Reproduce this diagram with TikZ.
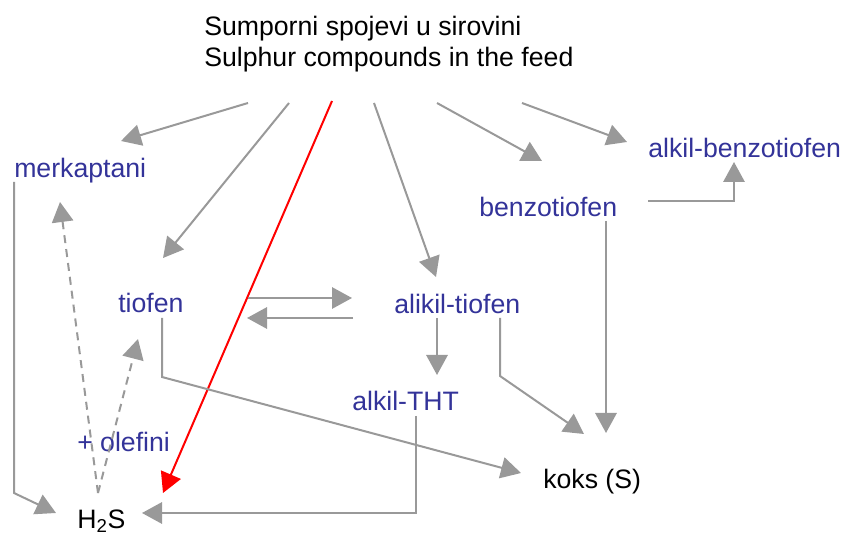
\documentclass[tikz,border=0pt]{standalone}
\usepackage{fontspec}
\setmainfont{Liberation Sans}
\usetikzlibrary{arrows.meta,calc}
\usepackage{xcolor}
\definecolor{chemblue}{HTML}{333399}
\definecolor{arrgray}{HTML}{999999}

\begin{document}
\begin{tikzpicture}[x=0.75pt, y=-0.75pt, font=\fontsize{20}{24}\selectfont,
    >={Triangle[length=15pt,width=16pt]},
    comp/.style={text=chemblue, anchor=base west, inner sep=0pt},
    plain/.style={anchor=base west, inner sep=0pt},
    flow/.style={->, arrgray, line width=1.5pt},
    back/.style={flow, dash pattern=on 6pt off 4.5pt},
    direct/.style={->, red, line width=1.5pt}]
    \useasboundingbox (0,0) rectangle (843,534);

    % Feed
    \node[plain] (srcA) at (204,36) {Sumporni spojevi u sirovini};
    \node[plain] (srcB) at (204,67) {Sulphur compounds in the feed};

    % Compounds
    \node[comp] (merk) at (14,178) {merkaptani};
    \node[comp] (tiof) at (118,313) {tiofen};
    \node[comp] (atiof) at (394,314) {alikil-tiofen};
    \node[comp] (atht) at (352,411) {alkil-THT};
    \node[comp] (btiof) at (479,217) {benzotiofen};
    \node[comp] (abtiof) at (648,158) {alkil-benzotiofen};
    \node[comp] (olef) at (77,452) {+ olefini};

    % Products
    \node[plain] (koks) at (543,489) {koks (S)};
    \node[plain] (hs) at (77,528) {H\textsubscript{2}S};

    % Arrow ends
    \coordinate (srcM) at (248,103);
    \coordinate (srcT) at (289,103);
    \coordinate (srcH) at (332,101);
    \coordinate (srcA1) at (374,103);
    \coordinate (srcB1) at (437,103);
    \coordinate (srcB2) at (522,103);
    \coordinate (merkIn) at (121,141);
    \coordinate (tiofIn) at (163,258);
    \coordinate (hsRed) at (163,493);
    \coordinate (atiofIn) at (436,277);
    \coordinate (btiofIn) at (542,161);
    \coordinate (abtiofIn) at (627,142);
    \coordinate (btiofR) at (648,201);
    \coordinate (abtiofB) at (734,162);
    \coordinate (btiofD) at (606,221);
    \coordinate (koksB) at (606,433);
    \coordinate (atiofR) at (500,318);
    \coordinate (atiofK) at (500,376);
    \coordinate (koksA) at (584,434);
    \coordinate (atiofD) at (437,318);
    \coordinate (athtIn) at (437,375);
    \coordinate (tiofR) at (248,298);
    \coordinate (atiofL) at (352,298);
    \coordinate (atiofL2) at (353,318);
    \coordinate (tiofR2) at (247,318);
    \coordinate (tiofD) at (162,318);
    \coordinate (tiofK) at (162,377);
    \coordinate (koksL) at (521,473);
    \coordinate (athtD) at (416,416);
    \coordinate (hsR) at (142,513);
    \coordinate (merkD) at (14,182);
    \coordinate (merkK) at (14,493);
    \coordinate (hsL) at (56,513);
    \coordinate (hsU) at (98,493);
    \coordinate (merkB) at (60,202);
    \coordinate (tiofB) at (138,339);

    % Arrows from the feed
    \draw[flow] (srcM) -- (merkIn);
    \draw[flow] (srcT) -- (tiofIn);
    \draw[direct] (srcH) -- (hsRed);
    \draw[flow] (srcA1) -- (atiofIn);
    \draw[flow] (srcB1) -- (btiofIn);
    \draw[flow] (srcB2) -- (abtiofIn);

    % Reactions
    \draw[flow] (btiofR) -| (abtiofB);
    \draw[flow] (btiofD) -- (koksB);
    \draw[flow] (atiofR) -- (atiofK) -- (koksA);
    \draw[flow] (atiofD) -- (athtIn);
    \draw[flow] (tiofR) -- (atiofL);
    \draw[flow] (atiofL2) -- (tiofR2);
    \draw[flow] (tiofD) -- (tiofK) -- (koksL);
    \draw[flow] (athtD) |- (hsR);
    \draw[flow] (merkD) -- (merkK) -- (hsL);

    % Back reactions
    \draw[back] (hsU) -- (merkB);
    \draw[back] (hsU) -- (tiofB);
\end{tikzpicture}
\end{document}
